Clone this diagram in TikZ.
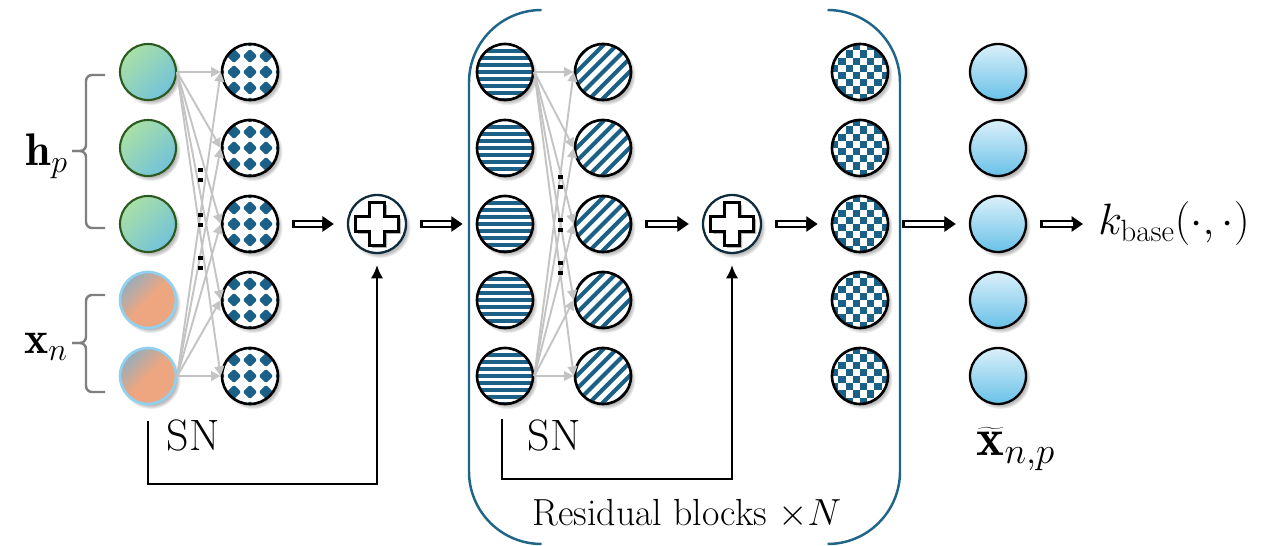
\RequirePackage{fix-cm}
\documentclass[tikz,border=0pt]{standalone}
\usepackage{fontspec}
\usetikzlibrary{arrows.meta,shadows,fadings,calc}
\definecolor{pc}{HTML}{1B6087}
\definecolor{brk}{HTML}{1F6489}
\definecolor{gtl}{HTML}{A9E0A6}
\definecolor{gbr}{HTML}{72C2DA}
\definecolor{gborder}{HTML}{2C5A1E}
\definecolor{otl}{HTML}{98ADBB}
\definecolor{obr}{HTML}{EEA680}
\definecolor{oborder}{HTML}{8FD1EF}
\definecolor{btop}{HTML}{DBF0FA}
\definecolor{bbot}{HTML}{68C1E8}
\definecolor{plusrim}{HTML}{0E2C3C}
\definecolor{connc}{HTML}{C4C4C4}
\definecolor{bracegray}{HTML}{7F7F7F}
\begin{document}
\begin{tikzpicture}[x=0.02cm,y=-0.02cm,
  shd/.style={circular drop shadow={shadow xshift=0.05cm,shadow yshift=-0.06cm,shadow scale=1.07,opacity=0.55}},
  neuron/.style={circle,minimum size=1.12cm,inner sep=0pt,shd},
  hnode/.style={neuron,draw=gborder,line width=1.2pt,top color=gtl,bottom color=gbr,shading angle=45},
  xnode/.style={neuron,draw=oborder,line width=1.5pt,top color=otl,bottom color=obr,middle color=obr,shading angle=45},
  onode/.style={neuron,draw=black,line width=1.3pt,top color=btop,bottom color=bbot},
  patnode/.style={neuron,draw=black,line width=1.5pt,fill=white},
  diamondnode/.style={patnode,path picture={
    \begin{scope}[shift={(path picture bounding box.center)},x=0.02cm,y=0.02cm]
      \foreach \i in {-2,...,2}{
        \foreach \j in {-2,...,2}{
          \fill[pc,rounded corners=0.8pt] (\i*16,\j*16+7.2) -- (\i*16+7.2,\j*16) -- (\i*16,\j*16-7.2) -- (\i*16-7.2,\j*16) -- cycle;}}
    \end{scope}}},
  hstripenode/.style={patnode,path picture={
    \begin{scope}[shift={(path picture bounding box.center)},x=0.02cm,y=0.02cm]
      \foreach \k in {-5,...,5}{\fill[pc] (-32,\k*7.1-1.9) rectangle (32,\k*7.1+1.9);}
    \end{scope}}},
  dstripenode/.style={patnode,path picture={
    \begin{scope}[shift={(path picture bounding box.center)},x=0.02cm,y=0.02cm]
      \foreach \k in {-6,...,6}{\draw[pc,line width=2.3pt] (\k*13.3-40,-40) -- (\k*13.3+40,40);}
    \end{scope}}},
  checknode/.style={patnode,path picture={
    \begin{scope}[shift={(path picture bounding box.center)},x=0.02cm,y=0.02cm]
      \foreach \i in {-6,-4,...,4}{\foreach \j in {-6,-4,...,4}{
        \fill[pc] (\i*7.2,\j*7.2) rectangle ++(7.2,7.2);
        \fill[pc] (\i*7.2+7.2,\j*7.2+7.2) rectangle ++(7.2,7.2);}}
    \end{scope}}},
  plusnode/.style={circle,minimum size=1.16cm,inner sep=0pt,draw=plusrim,line width=1.3pt,fill=white,shd,path picture={
    \begin{scope}[shift={(path picture bounding box.center)},x=0.02cm,y=0.02cm]
      \fill[black,opacity=0.3] (-5,19) -- (10,19) -- (10,5) -- (24,5) -- (24,-10) -- (10,-10) -- (10,-24) -- (-5,-24) -- (-5,-10) -- (-19,-10) -- (-19,5) -- (-5,5) -- cycle;
      \filldraw[fill=white,draw=black,line width=1.5pt] (-7.5,21.5) -- (7.5,21.5) -- (7.5,7.5) -- (21.5,7.5) -- (21.5,-7.5) -- (7.5,-7.5) -- (7.5,-21.5) -- (-7.5,-21.5) -- (-7.5,-7.5) -- (-21.5,-7.5) -- (-21.5,7.5) -- (-7.5,7.5) -- cycle;
    \end{scope}}},
  conn/.style={draw=connc,line width=1.1pt,-{Triangle[length=5.5pt,width=5.5pt]}},
  dblarrow/.style={line width=4.6pt,-{Triangle[length=6.5pt,width=8.5pt]},shorten <=0.26cm,shorten >=0.26cm,
    postaction={draw=white,line width=1.8pt,-,shorten <=0.26cm+1.4pt,shorten >=0.26cm+6.6pt}},
  skiparrow/.style={line width=1.2pt,-{Latex[length=7.5pt,width=7pt]}},
  brc/.style={draw=bracegray,line width=1.4pt,rounded corners=0.12cm},
  bracket/.style={draw=brk,line width=1.4pt,rounded corners=1.45cm},
  sntext/.style={font=\fontsize{25}{30}\selectfont},
  restext/.style={font=\fontsize{21.5}{26}\selectfont},
  klabel/.style={font=\fontsize{25}{30}\selectfont},
  inlabel/.style={font=\fontsize{26}{31}\selectfont},
  outlabel/.style={font=\fontsize{30}{36}\selectfont}
]
\useasboundingbox (0,0) rectangle (1268,546);

% brackets of the residual block
\draw[bracket] (540,10) -- (469,10) -- (469,544) -- (540,544);
\draw[bracket] (828,10) -- (900,10) -- (900,544) -- (828,544);

% columns of neurons
\foreach \k/\y in {1/72,2/148,3/224}{\node[hnode] (in\k) at (148,\y) {};}
\foreach \k/\y in {4/300,5/376}{\node[xnode] (in\k) at (148,\y) {};}
\foreach \k/\y in {1/72,2/148,3/224,4/300,5/376}{
  \node[diamondnode] (h\k) at (250,\y) {};
  \node[hstripenode] (s\k) at (505,\y) {};
  \node[dstripenode] (d\k) at (603,\y) {};
  \node[checknode] (c\k) at (860,\y) {};
  \node[onode] (o\k) at (998,\y) {};
}
\node[plusnode] (p1) at (377,224) {};
\node[plusnode] (p2) at (732,224) {};

% dense connections
\foreach \k in {1,...,5}{
  \draw[conn] (in1.east) -- (h\k.west);
  \draw[conn] (in5.east) -- (h\k.west);
  \draw[conn] (s1.east) -- (d\k.west);
  \draw[conn] (s5.east) -- (d\k.west);
}
% vertical dots
\foreach \x/\y in {200/175,200/220,200/263,560/182,560/225,560/268}{
  \fill (\x-2.5,\y-7.3) rectangle (\x+2.5,\y-2.7);
  \fill (\x-2.5,\y+2.7) rectangle (\x+2.5,\y+7.3);
}

% labels
\node[klabel,anchor=west,inner sep=0pt] (k) at (1098,224) {$k_{\mathrm{base}}(\cdot,\cdot)$};
\node[outlabel] (xt) at (1016,449) {$\widetilde{\mathbf{x}}_{n,p}$};
\node[sntext,anchor=base] (snL) at (193,451) {SN};
\node[sntext,anchor=base] (snM) at (554,451) {SN};
\node[restext,anchor=base] (res) at (687,526) {Residual blocks $\times N$};

% braces
\draw[brc] (105,75) -- (86,75) -- (86,151) -- (72,151);
\draw[brc] (105,228) -- (86,228) -- (86,151) -- (72,151);
\draw[brc] (105,295) -- (86,295) -- (86,343) -- (72,343);
\draw[brc] (105,392) -- (86,392) -- (86,343) -- (72,343);
\node[inlabel,anchor=east,inner sep=1pt] (hp) at (70,156) {$\mathbf{h}_p$};
\node[inlabel,anchor=east,inner sep=1pt] (xn) at (70,347) {$\mathbf{x}_n$};

% main flow
\draw[dblarrow] (h3) -- (p1);
\draw[dblarrow] (p1) -- (s3);
\draw[dblarrow] (d3) -- (p2);
\draw[dblarrow] (p2) -- (c3);
\draw[dblarrow] (c3) -- (o3);
\draw[dblarrow,shorten >=0.3cm] (o3) -- (k);

% skip connections
\coordinate (skL) at ([yshift=-0.32cm]in5.south);
\draw[skiparrow] (skL) -- (skL |- 0,484) -| ([yshift=-0.22cm]p1.south);
\coordinate (skM) at ([xshift=-0.06cm,yshift=-0.28cm]s5.south);
\draw[skiparrow] (skM) -- (skM |- 0,479) -| ([yshift=-0.22cm]p2.south);
\end{tikzpicture}
\end{document}
